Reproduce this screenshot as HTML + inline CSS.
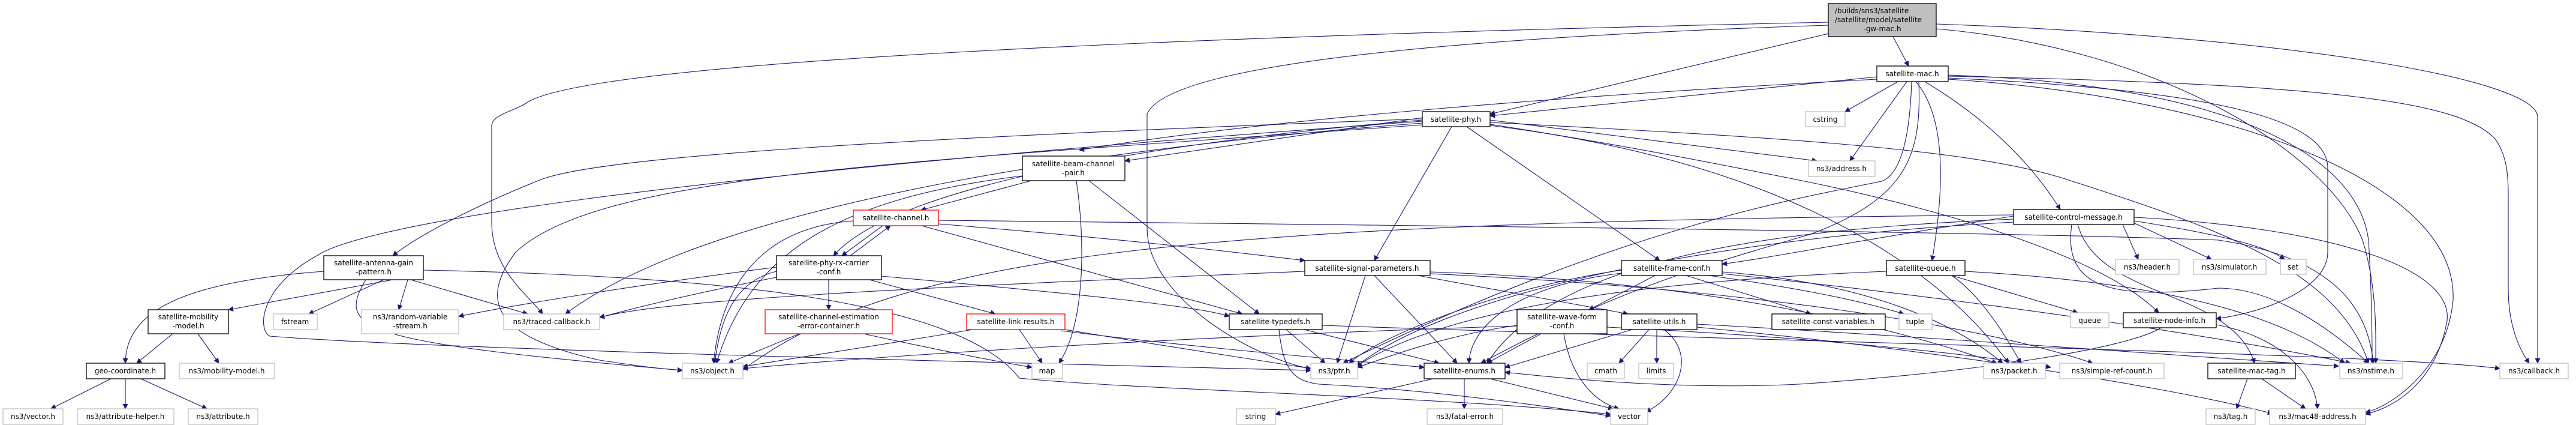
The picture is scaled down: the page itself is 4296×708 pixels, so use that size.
<!DOCTYPE html>
<html><head><meta charset="utf-8">
<style>
html,body{margin:0;padding:0;background:#fff;}
svg{display:block;}
text{font-family:"DejaVu Sans","Liberation Sans",sans-serif;font-size:12px;fill:#000;}
.b{fill:#fff;stroke:#000;stroke-width:1.3;}
.g{fill:#fff;stroke:#bfbfbf;stroke-width:1.3;}
.r{fill:#fff;stroke:#ff0000;stroke-width:1.3;}
.e{fill:none;stroke:#191970;stroke-width:1.1;marker-end:url(#a);}
</style></head><body>
<svg width="4296" height="708" viewBox="0 0 4296 708" xmlns="http://www.w3.org/2000/svg">
<defs><marker id="a" viewBox="0 0 10 10" refX="9" refY="5" markerWidth="9" markerHeight="9" markerUnits="userSpaceOnUse" orient="auto"><path d="M0,0 L10,5 L0,10 z" fill="#191970"/></marker></defs>
<g>
<!-- edges -->
<path class="e" d="M3157,61 L3183,110"/>
<path class="e" d="M3049,56 L2485,190"/>
<path class="e" d="M3049,37 C2000,60 1000,100 880,170 C860,185 820,190 820,210 L820,370 C820,450 880,490 905,523"/>
<path class="e" d="M3049,42 C2500,60 1950,100 1913,190 L1913,380 C1913,500 2100,600 2186,614"/>
<path class="e" d="M3229,40 C3800,60 4232,130 4232,195 L4232,605"/>
<path class="e" d="M3229,48 C3600,80 3880,250 3940,400 C3965,480 3962,560 3962,605"/>
<path class="e" d="M3130,128 L2485,193"/>
<path class="e" d="M3165,136 L3077,186"/>
<path class="e" d="M3180,136 L3085,268"/>
<path class="e" d="M3210,136 C3300,190 3380,260 3436,349"/>
<path class="e" d="M3195,136 C3250,200 3240,330 3222,434"/>
<path class="e" d="M3249,125 C3700,140 3930,250 3950,400 C3955,480 3956,560 3956,605"/>
<path class="e" d="M3249,127 C3900,140 4100,170 4160,230 C4183,260 4183,300 4183,330 L4183,480 C4183,540 4200,580 4218,605"/>
<path class="e" d="M3249,130 C3700,150 3882,200 3882,280 L3882,420 C3882,480 3780,520 3696,531"/>
<path class="e" d="M3249,132 C3700,160 4100,300 4091,500 C4080,620 3980,680 3945,687"/>
<path class="e" d="M3130,132 C2600,160 2100,200 1800,250"/>
<path class="e" d="M3188,136 C3185,230 3170,290 3138,302 C3000,330 2700,380 2240,605"/>
<path class="e" d="M3200,136 C3205,260 3180,330 3020,390 C2850,440 2700,480 2470,605"/>
<path class="e" d="M2421,211 L2292,434"/>
<path class="e" d="M2446,211 L2768,434"/>
<path class="e" d="M2372,196 L1876,268"/>
<path class="e" d="M2372,200 C2000,230 1500,300 1390,426"/>
<path class="e" d="M2372,198 C1500,230 1000,260 900,300 C800,340 700,390 655,426"/>
<path class="e" d="M2372,205 C1900,240 1200,330 943,523"/>
<path class="e" d="M2372,208 C1500,270 1000,290 860,420 C800,500 820,560 1000,600 C1080,612 1110,615 1138,617"/>
<path class="e" d="M2372,202 C1000,300 600,380 530,425 C430,480 430,550 450,560 C700,580 1500,600 2186,617"/>
<path class="e" d="M2485,200 L3030,268"/>
<path class="e" d="M2485,204 C3000,230 3300,250 3450,300 C3700,380 3900,450 3950,605"/>
<path class="e" d="M2485,207 C2700,240 2900,280 3000,300 C3200,340 3500,420 3600,521"/>
<path class="e" d="M2485,209 C2900,260 3200,400 3350,605"/>
<path class="e" d="M1720,301 L1536,350"/>
<path class="e" d="M1795,301 C1810,400 1810,540 1766,605"/>
<path class="e" d="M1816,301 L2100,523"/>
<path class="e" d="M1705,293 C1400,330 1250,420 1195,605"/>
<path class="e" d="M1472,376 L1404,426"/>
<path class="e" d="M1418,426 L1485,376"/>
<path class="e" d="M1537,376 L2072,523"/>
<path class="e" d="M1565,367 C2300,375 3300,385 3700,400 C3900,430 3950,520 3958,605"/>
<path class="e" d="M1565,373 C1900,400 2100,425 2176,434"/>
<path class="e" d="M1423,368 C1250,380 1200,500 1190,605"/>
<path class="e" d="M1382,466 L1382,516"/>
<path class="e" d="M1450,466 L1660,523"/>
<path class="e" d="M1295,452 C1220,470 1200,540 1192,605"/>
<path class="e" d="M1295,445 C1100,470 900,500 765,527"/>
<path class="e" d="M1470,460 C1800,490 2000,510 2050,527"/>
<path class="e" d="M1295,462 C1150,490 1050,515 1000,529"/>
<path class="e" d="M1333,556 L1215,605"/>
<path class="e" d="M1440,556 C1550,580 1650,600 1721,612"/>
<path class="e" d="M1700,549 L1738,605"/>
<path class="e" d="M1622,549 C1500,570 1300,600 1239,611"/>
<path class="e" d="M1776,549 C1900,570 2100,600 2186,614"/>
<path class="e" d="M1770,551 C2000,580 2250,600 2375,612"/>
<path class="e" d="M2145,549 L2210,605"/>
<path class="e" d="M2175,549 L2400,605"/>
<path class="e" d="M2133,549 C2140,620 2160,635 2200,640 C2400,650 2600,680 2686,693"/>
<path class="e" d="M2205,542 C3000,570 4000,590 4169,614"/>
<path class="e" d="M2277,459 L2230,605"/>
<path class="e" d="M2292,459 L2430,605"/>
<path class="e" d="M2365,459 L2715,523"/>
<path class="e" d="M2385,453 C2900,470 3200,560 3330,605"/>
<path class="e" d="M2385,456 C2900,480 3300,540 3490,605"/>
<path class="e" d="M2176,452 C1500,480 1100,500 1000,529"/>
<path class="e" d="M2760,459 L2650,516"/>
<path class="e" d="M2812,459 L3020,523"/>
<path class="e" d="M2850,459 C3000,480 3100,500 3175,523"/>
<path class="e" d="M2704,455 C2500,480 2450,560 2450,605"/>
<path class="e" d="M2704,450 C2500,480 2300,560 2250,605"/>
<path class="e" d="M2872,453 C3100,470 3250,530 3340,605"/>
<path class="e" d="M2872,456 C3300,500 3700,560 3920,605"/>
<path class="e" d="M2570,556 L2480,605"/>
<path class="e" d="M2608,556 C2620,630 2660,670 2700,681"/>
<path class="e" d="M2530,542 C2400,560 2300,600 2264,612"/>
<path class="e" d="M2530,543 C2000,560 1500,590 1239,614"/>
<path class="e" d="M2680,545 C3000,560 3300,590 3420,612"/>
<path class="e" d="M2722,549 L2510,612"/>
<path class="e" d="M2750,549 L2700,605"/>
<path class="e" d="M2763,549 L2763,605"/>
<path class="e" d="M2775,549 C2830,590 2800,660 2745,686"/>
<path class="e" d="M2830,545 C3200,580 3600,640 3790,689"/>
<path class="e" d="M2830,540 C3200,560 3600,590 3900,610"/>
<path class="e" d="M3255,459 C3300,490 3340,550 3370,605"/>
<path class="e" d="M3255,459 L3465,521"/>
<path class="e" d="M3146,452 C2700,470 2400,520 2262,610"/>
<path class="e" d="M3277,452 C3600,470 3800,520 3910,605"/>
<path class="e" d="M3540,374 L3566,432"/>
<path class="e" d="M3560,372 L3688,432"/>
<path class="e" d="M3559,368 C3700,390 3780,410 3810,432"/>
<path class="e" d="M3358,360 C3100,400 2950,430 2872,440"/>
<path class="e" d="M3465,374 C3500,500 3720,480 3760,605"/>
<path class="e" d="M3455,374 C3440,480 3520,500 3700,480 C3800,480 3900,560 3950,605"/>
<path class="e" d="M3559,362 C3900,380 4100,450 4080,540 C4060,640 3990,680 3945,690"/>
<path class="e" d="M3358,365 C3000,380 2600,420 2480,605"/>
<path class="e" d="M3358,370 C2800,400 2400,500 2262,610"/>
<path class="e" d="M3358,358 C2000,370 1500,420 1239,616"/>
<path class="e" d="M3604,546 C3550,580 3300,620 3000,640 C2800,650 2600,630 2510,620"/>
<path class="e" d="M3696,541 C3800,560 3860,620 3865,681"/>
<path class="e" d="M3748,631 L3730,681"/>
<path class="e" d="M3772,631 L3845,681"/>
<path class="e" d="M540,452 C300,470 210,520 209,605"/>
<path class="e" d="M655,466 L381,516"/>
<path class="e" d="M640,466 L515,523"/>
<path class="e" d="M680,466 L665,516"/>
<path class="e" d="M685,466 L880,523"/>
<path class="e" d="M610,466 C560,550 600,570 1138,617"/>
<path class="e" d="M706,450 C1200,460 1600,500 1700,630 C1900,650 2400,660 2686,690"/>
<path class="e" d="M288,556 L228,605"/>
<path class="e" d="M330,556 L365,605"/>
<path class="e" d="M185,631 L85,681"/>
<path class="e" d="M209,631 L209,681"/>
<path class="e" d="M235,631 L345,681"/>
<path class="e" d="M2390,631 L2127,690"/>
<path class="e" d="M2442,631 L2442,681"/>
<path class="e" d="M2485,631 L2690,681"/>
</g>
<g>
<!-- nodes -->
<rect x="3049" y="6" width="180" height="55" fill="#bfbfbf" stroke="#000" stroke-width="1.3"/>
<text x="3060" y="22">/builds/sns3/satellite</text>
<text x="3060" y="37">/satellite/model/satellite</text>
<text x="3139" y="52" text-anchor="middle">-gw-mac.h</text>

<rect class="b" x="3130" y="110" width="119" height="26"/><text x="3189" y="127" text-anchor="middle">satellite-mac.h</text>
<rect class="g" x="3011" y="186" width="66" height="25"/><text x="3044" y="203" text-anchor="middle">cstring</text>
<rect class="b" x="2372" y="186" width="113" height="25"/><text x="2428" y="203" text-anchor="middle">satellite-phy.h</text>
<rect class="g" x="3016" y="268" width="111" height="26"/><text x="3071" y="285" text-anchor="middle">ns3/address.h</text>
<rect class="b" x="1705" y="260" width="171" height="41"/><text x="1790" y="277" text-anchor="middle">satellite-beam-channel</text><text x="1790" y="292" text-anchor="middle">-pair.h</text>
<rect class="r" x="1423" y="350" width="142" height="26"/><text x="1494" y="367" text-anchor="middle">satellite-channel.h</text>
<rect class="b" x="3358" y="349" width="201" height="25"/><text x="3458" y="366" text-anchor="middle">satellite-control-message.h</text>
<rect class="b" x="540" y="426" width="166" height="40"/><text x="623" y="442" text-anchor="middle">satellite-antenna-gain</text><text x="623" y="457" text-anchor="middle">-pattern.h</text>
<rect class="b" x="1295" y="426" width="175" height="40"/><text x="1382" y="442" text-anchor="middle">satellite-phy-rx-carrier</text><text x="1382" y="457" text-anchor="middle">-conf.h</text>
<rect class="b" x="2176" y="434" width="209" height="25"/><text x="2280" y="451" text-anchor="middle">satellite-signal-parameters.h</text>
<rect class="b" x="2704" y="434" width="168" height="25"/><text x="2788" y="451" text-anchor="middle">satellite-frame-conf.h</text>
<rect class="b" x="3146" y="434" width="131" height="25"/><text x="3211" y="451" text-anchor="middle">satellite-queue.h</text>
<rect class="g" x="3528" y="432" width="106" height="25"/><text x="3581" y="449" text-anchor="middle">ns3/header.h</text>
<rect class="g" x="3658" y="432" width="121" height="25"/><text x="3718" y="449" text-anchor="middle">ns3/simulator.h</text>
<rect class="g" x="3803" y="432" width="43" height="25"/><text x="3824" y="449" text-anchor="middle">set</text>
<rect class="b" x="247" y="516" width="134" height="40"/><text x="314" y="532" text-anchor="middle">satellite-mobility</text><text x="314" y="547" text-anchor="middle">-model.h</text>
<rect class="g" x="603" y="516" width="162" height="40"/><text x="684" y="532" text-anchor="middle">ns3/random-variable</text><text x="684" y="547" text-anchor="middle">-stream.h</text>
<rect class="g" x="456" y="523" width="73" height="26"/><text x="492" y="540" text-anchor="middle">fstream</text>
<rect class="g" x="840" y="523" width="160" height="26"/><text x="920" y="540" text-anchor="middle">ns3/traced-callback.h</text>
<rect class="r" x="1276" y="516" width="212" height="40"/><text x="1382" y="532" text-anchor="middle">satellite-channel-estimation</text><text x="1382" y="547" text-anchor="middle">-error-container.h</text>
<rect class="r" x="1612" y="523" width="164" height="26"/><text x="1694" y="540" text-anchor="middle">satellite-link-results.h</text>
<rect class="b" x="2050" y="523" width="155" height="26"/><text x="2127" y="540" text-anchor="middle">satellite-typedefs.h</text>
<rect class="b" x="2530" y="516" width="150" height="40"/><text x="2605" y="532" text-anchor="middle">satellite-wave-form</text><text x="2605" y="547" text-anchor="middle">-conf.h</text>
<rect class="b" x="2704" y="523" width="126" height="26"/><text x="2767" y="540" text-anchor="middle">satellite-utils.h</text>
<rect class="b" x="2955" y="523" width="189" height="26"/><text x="3049" y="540" text-anchor="middle">satellite-const-variables.h</text>
<rect class="g" x="3167" y="523" width="55" height="26"/><text x="3194" y="540" text-anchor="middle">tuple</text>
<rect class="g" x="3453" y="521" width="64" height="25"/><text x="3485" y="538" text-anchor="middle">queue</text>
<rect class="b" x="3541" y="521" width="155" height="25"/><text x="3618" y="538" text-anchor="middle">satellite-node-info.h</text>
<rect class="b" x="144" y="605" width="131" height="26"/><text x="209" y="622" text-anchor="middle">geo-coordinate.h</text>
<rect class="g" x="299" y="605" width="159" height="26"/><text x="378" y="622" text-anchor="middle">ns3/mobility-model.h</text>
<rect class="g" x="1138" y="605" width="101" height="26"/><text x="1188" y="622" text-anchor="middle">ns3/object.h</text>
<rect class="g" x="1721" y="605" width="51" height="26"/><text x="1746" y="622" text-anchor="middle">map</text>
<rect class="g" x="2186" y="605" width="78" height="26"/><text x="2225" y="622" text-anchor="middle">ns3/ptr.h</text>
<rect class="b" x="2375" y="605" width="135" height="26"/><text x="2442" y="622" text-anchor="middle">satellite-enums.h</text>
<rect class="g" x="2647" y="605" width="62" height="26"/><text x="2678" y="622" text-anchor="middle">cmath</text>
<rect class="g" x="2733" y="605" width="58" height="26"/><text x="2762" y="622" text-anchor="middle">limits</text>
<rect class="g" x="3308" y="605" width="103" height="26"/><text x="3359" y="622" text-anchor="middle">ns3/packet.h</text>
<rect class="g" x="3435" y="605" width="174" height="26"/><text x="3522" y="622" text-anchor="middle">ns3/simple-ref-count.h</text>
<rect class="b" x="3682" y="605" width="146" height="26"/><text x="3755" y="622" text-anchor="middle">satellite-mac-tag.h</text>
<rect class="g" x="3902" y="605" width="105" height="26"/><text x="3954" y="622" text-anchor="middle">ns3/nstime.h</text>
<rect class="g" x="4169" y="605" width="114" height="26"/><text x="4226" y="622" text-anchor="middle">ns3/callback.h</text>
<rect class="g" x="5" y="681" width="100" height="26"/><text x="55" y="698" text-anchor="middle">ns3/vector.h</text>
<rect class="g" x="129" y="681" width="161" height="26"/><text x="209" y="698" text-anchor="middle">ns3/attribute-helper.h</text>
<rect class="g" x="314" y="681" width="116" height="26"/><text x="372" y="698" text-anchor="middle">ns3/attribute.h</text>
<rect class="g" x="2062" y="681" width="65" height="26"/><text x="2094" y="698" text-anchor="middle">string</text>
<rect class="g" x="2380" y="681" width="126" height="26"/><text x="2443" y="698" text-anchor="middle">ns3/fatal-error.h</text>
<rect class="g" x="2686" y="681" width="62" height="26"/><text x="2717" y="698" text-anchor="middle">vector</text>
<rect class="g" x="3679" y="681" width="82" height="26"/><text x="3720" y="698" text-anchor="middle">ns3/tag.h</text>
<rect class="g" x="3785" y="681" width="160" height="26"/><text x="3865" y="698" text-anchor="middle">ns3/mac48-address.h</text>
</g>
</svg>
</body></html>
